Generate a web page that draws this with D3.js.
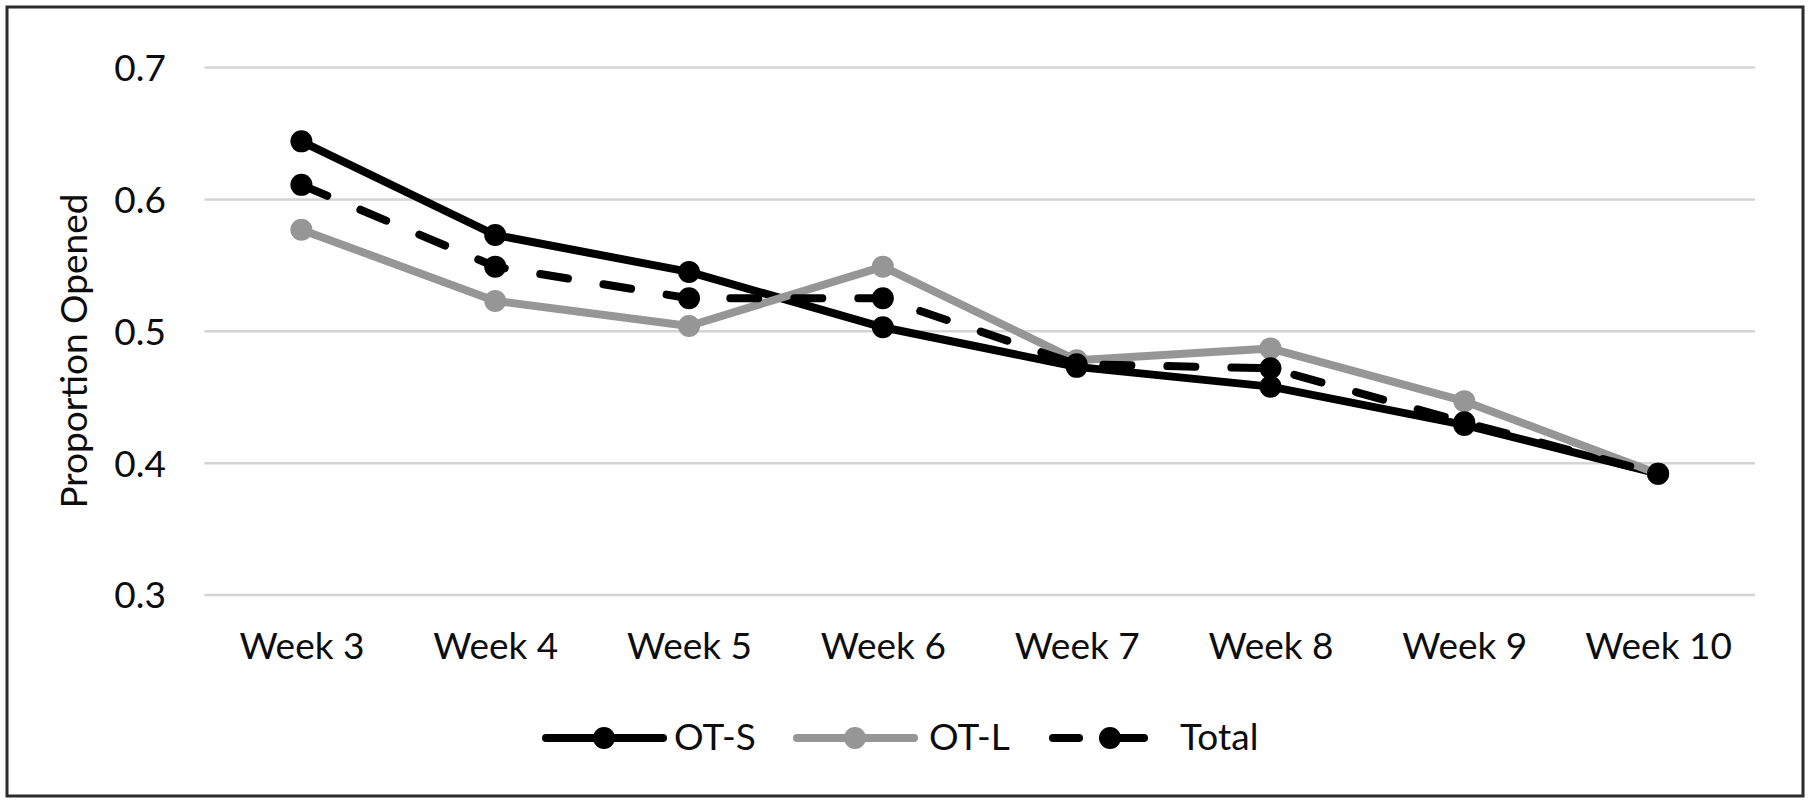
<!DOCTYPE html>
<html>
<head>
<meta charset="utf-8">
<script src="https://cdn.jsdelivr.net/npm/d3@7"></script>
<style>
  html, body { margin: 0; padding: 0; background: #fff; }
  svg { display: block; }
  text { font-family: Lato, "Open Sans", sans-serif; fill: #0d0d0d; }
</style>
</head>
<body>
<svg id="chart" width="1810" height="803"></svg>
<script>
const categories = ["Week 3", "Week 4", "Week 5", "Week 6", "Week 7", "Week 8", "Week 9", "Week 10"];
const otS   = [0.644, 0.573, 0.545, 0.503, 0.473, 0.458, 0.429, 0.392];
const otL   = [0.577, 0.523, 0.504, 0.549, 0.478, 0.487, 0.447, 0.392];
const total = [0.611, 0.549, 0.525, 0.525, 0.475, 0.472, 0.431, 0.392];
const yTicks = [0.3, 0.4, 0.5, 0.6, 0.7];
const seriesNames = ["OT-S", "OT-L", "Total"];
const yTitle = "Proportion Opened";

const series = [
  { name: seriesNames[0], values: otS,   color: "#000000", dash: null },
  { name: seriesNames[1], values: otL,   color: "#969696", dash: null },
  { name: seriesNames[2], values: total, color: "#000000", dash: "28,36" }
];

const svg = d3.select("#chart");
const fontSize = 37;

// outer border
svg.append("rect")
  .attr("x", 7).attr("y", 7).attr("width", 1796).attr("height", 789)
  .attr("fill", "none").attr("stroke", "#2b2b2b").attr("stroke-width", 3);

const x = d3.scalePoint().domain(categories).range([204.5, 1755]).padding(0.5);
const y = d3.scaleLinear().domain([0.3, 0.7]).range([595, 67.5]);

// gridlines
svg.append("g").selectAll("line").data(yTicks).join("line")
  .attr("x1", 204.5).attr("x2", 1755)
  .attr("y1", d => y(d)).attr("y2", d => y(d))
  .attr("stroke", "#d4d4d4").attr("stroke-width", 2.5);

// y axis labels
const yAxis = d3.axisLeft(y).tickValues(yTicks).tickFormat(d3.format(".1f")).tickSize(0).tickPadding(0);
const gy = svg.append("g").attr("transform", "translate(166,0)").call(yAxis);
gy.select(".domain").remove();
gy.selectAll("text").attr("font-size", fontSize).attr("font-family", "Lato, sans-serif").attr("fill", "#0d0d0d")
  .attr("dy", "0.35em");

// x axis labels
const xAxis = d3.axisBottom(x).tickSize(0).tickPadding(0);
const gx = svg.append("g").attr("transform", "translate(0,633)").call(xAxis);
gx.select(".domain").remove();
gx.selectAll("text").attr("font-size", fontSize).attr("font-family", "Lato, sans-serif").attr("fill", "#0d0d0d")
  .attr("dy", "0.71em");

// y title
svg.append("text")
  .attr("transform", "translate(87,351) rotate(-90)")
  .attr("text-anchor", "middle")
  .attr("font-size", fontSize)
  .text(yTitle);

const line = d3.line().x((d, i) => x(categories[i])).y(d => y(d));

series.forEach(s => {
  svg.append("path")
    .datum(s.values)
    .attr("d", line)
    .attr("fill", "none")
    .attr("stroke", s.color)
    .attr("stroke-width", 8)
    .attr("stroke-linejoin", "round")
    .attr("stroke-linecap", "round")
    .attr("stroke-dasharray", s.dash);
  svg.append("g").selectAll("circle").data(s.values).join("circle")
    .attr("cx", (d, i) => x(categories[i]))
    .attr("cy", d => y(d))
    .attr("r", 11)
    .attr("fill", s.color);
});

// legend
const legendY = 738;
const legendItems = [
  { s: series[0], x0: 542, text: 674 },
  { s: series[1], x0: 793, text: 929 },
  { s: series[2], x0: 1049, text: 1180 }
];
legendItems.forEach(it => {
  const g = svg.append("g");
  if (it.s.dash) {
    g.append("line").attr("x1", it.x0 + 4).attr("x2", it.x0 + 30)
      .attr("y1", legendY).attr("y2", legendY)
      .attr("stroke", it.s.color).attr("stroke-width", 8).attr("stroke-linecap", "round");
    g.append("line").attr("x1", it.x0 + 64).attr("x2", it.x0 + 95)
      .attr("y1", legendY).attr("y2", legendY)
      .attr("stroke", it.s.color).attr("stroke-width", 8).attr("stroke-linecap", "round");
    g.append("circle").attr("cx", it.x0 + 61).attr("cy", legendY).attr("r", 11).attr("fill", it.s.color);
  } else {
    g.append("line").attr("x1", it.x0 + 4).attr("x2", it.x0 + 121)
      .attr("y1", legendY).attr("y2", legendY)
      .attr("stroke", it.s.color).attr("stroke-width", 8).attr("stroke-linecap", "round");
    g.append("circle").attr("cx", it.x0 + 62).attr("cy", legendY).attr("r", 11).attr("fill", it.s.color);
  }
  g.append("text").attr("x", it.text).attr("y", 750)
    .attr("font-size", fontSize).text(it.s.name);
});
</script>
</body>
</html>
